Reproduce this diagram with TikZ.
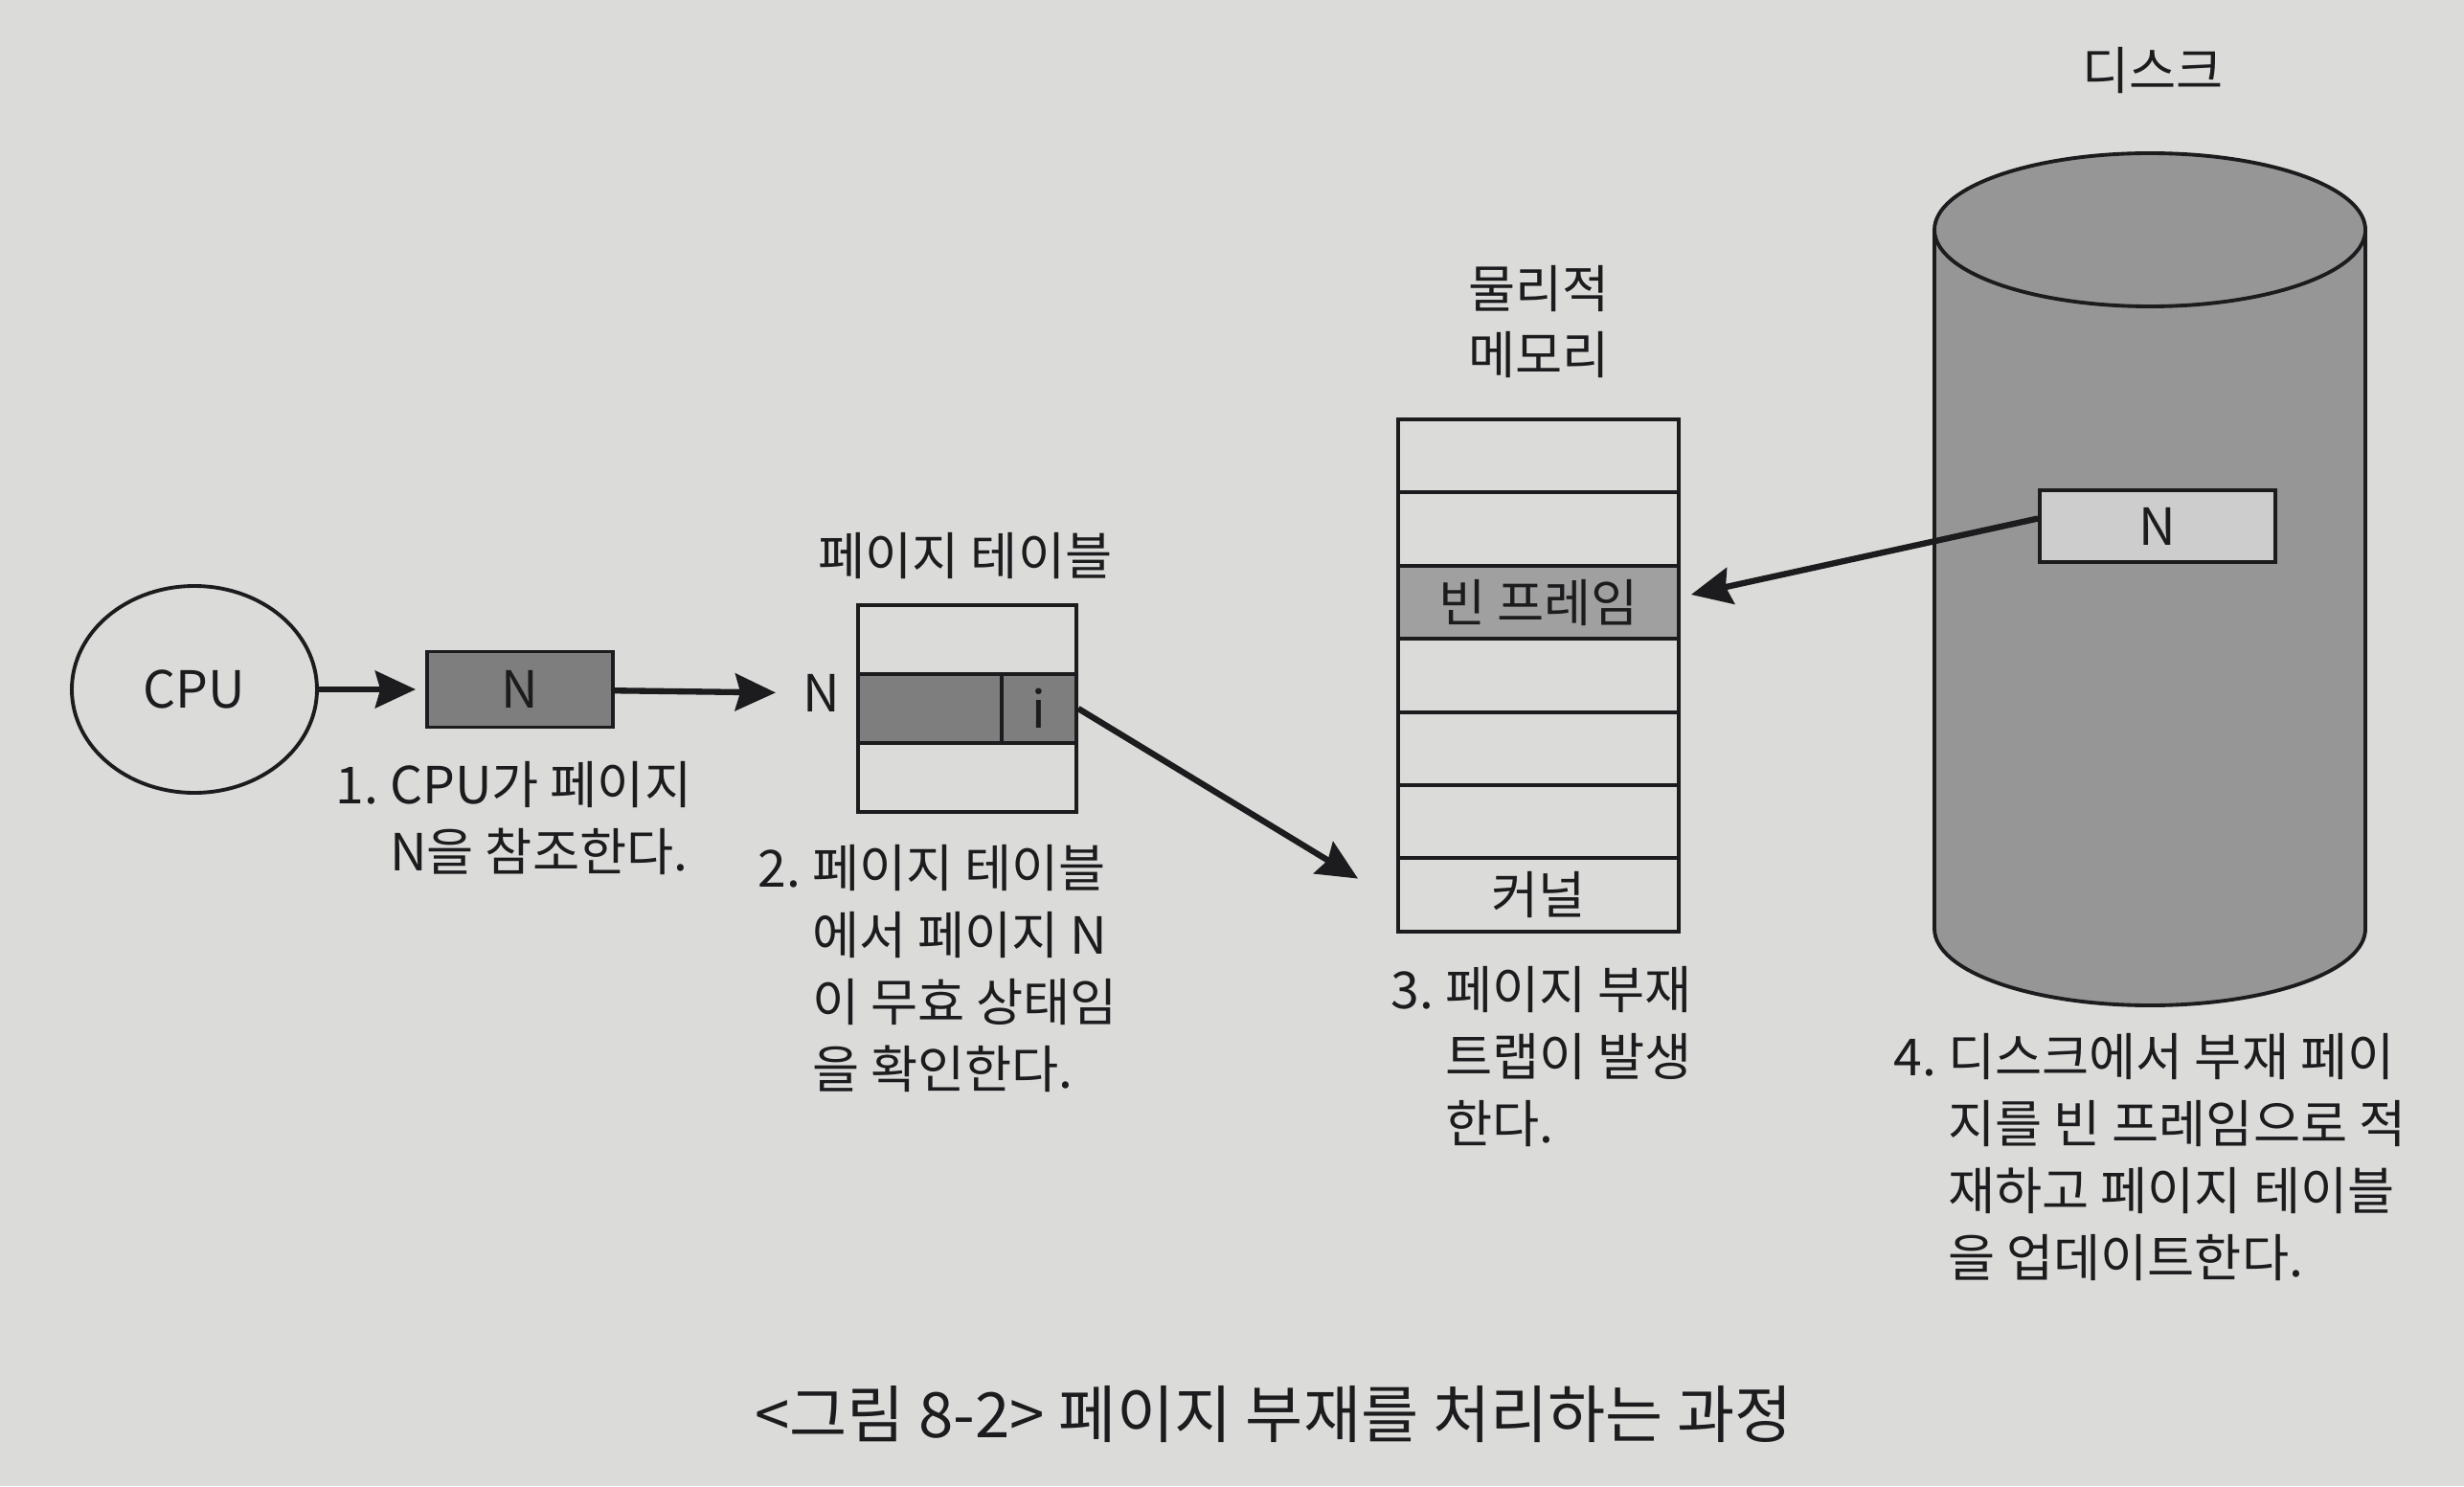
\documentclass[tikz,border=0pt]{standalone}
\usepackage{fontspec}
\setmainfont{Noto Sans CJK KR}
\usetikzlibrary{arrows.meta,shapes.geometric}

\definecolor{pfPaper}{RGB}{219,219,217}
\definecolor{pfInk}{RGB}{28,28,30}
\definecolor{pfDark}{RGB}{126,126,126}
\definecolor{pfFrame}{RGB}{160,160,160}
\definecolor{pfDisk}{RGB}{150,150,150}
\definecolor{pfDiskBox}{RGB}{205,205,205}

\begin{document}
\begin{tikzpicture}[
    pgFaultLine/.style={line width=1.1pt, draw=pfInk},
    pgFaultArrow/.style={-{Stealth[length=12pt, width=11pt, inset=1.5pt]}, line width=1.8pt, draw=pfInk},
    pgFaultText/.style={font=\fontsize{15.2pt}{19.9pt}\selectfont, text=pfInk, inner sep=0pt},
    pgFaultStep/.style={pgFaultText, align=left, anchor=north west},
    pgFaultCell/.style={pgFaultLine, pgFaultText, rectangle}
]
    % 배경
    \fill[pfPaper] (0,0) rectangle (25.73,15.52);
    \useasboundingbox (0,0) rectangle (25.73,15.52);

    % CPU와 가상 주소
    \node[pgFaultCell, ellipse, minimum width=2.56cm, minimum height=2.16cm] (cpu) at (2.03,8.32) {CPU};
    \node[pgFaultCell, fill=pfDark, minimum width=1.94cm, minimum height=0.79cm] (vaddr) at (5.43,8.32) {N};
    \node[pgFaultText] (ptIndex) at (8.58,8.28) {N};
    \draw[pgFaultArrow, shorten >=0.1cm] (cpu) -- (vaddr);
    \draw[pgFaultArrow, shorten >=0.28cm] (vaddr) -- (ptIndex);

    % 페이지 테이블
    \node[pgFaultText] (ptTitle) at (10.08,9.71) {페이지 테이블};
    \foreach \i/\c in {1/pfPaper, 2/pfDark, 3/pfPaper}
        \node[pgFaultCell, fill=\c, minimum width=2.28cm, minimum height=0.72cm] (pt\i) at (10.10,9.56-\i*0.72) {};
    \draw[pgFaultLine] ([xshift=-0.80cm]pt2.north east) -- ([xshift=-0.80cm]pt2.south east);
    \path (pt2.east) ++(-0.41,0) node[pgFaultText] (ptBit) {i};

    % 물리적 메모리
    \node[pgFaultText, align=center] (memTitle) at (16.07,12.16) {물리적\\메모리};
    \foreach \i/\c/\t in {1/pfPaper/, 2/pfPaper/, 3/pfFrame/빈 프레임, 4/pfPaper/,
                          5/pfPaper/, 6/pfPaper/, 7/pfPaper/커널}
        \node[pgFaultCell, fill=\c, minimum width=2.93cm, minimum height=0.764cm] (mem\i) at (16.065,11.522-\i*0.764) {\t};

    % 디스크
    \node[pgFaultText] (diskTitle) at (22.48,14.78) {디스크};
    \fill[pfDisk] (20.20,13.12) -- (20.20,5.82)
        arc[start angle=180, end angle=360, x radius=2.25cm, y radius=0.8cm]
        -- (24.70,13.12) -- cycle;
    \draw[pgFaultLine] (20.20,13.12) -- (20.20,5.82)
        arc[start angle=180, end angle=360, x radius=2.25cm, y radius=0.8cm]
        -- (24.70,13.12);
    \draw[pgFaultLine, fill=pfDisk] (22.45,13.12) ellipse [x radius=2.25cm, y radius=0.8cm];
    \node[pgFaultCell, fill=pfDiskBox, minimum width=2.46cm, minimum height=0.75cm] (diskPage) at (22.53,10.025) {N};

    % 트랩과 적재
    \coordinate (trapEnd) at ([xshift=-0.40cm, yshift=0.17cm]mem7.west);
    \draw[pgFaultArrow] (pt2.east) -- (trapEnd);
    \coordinate (loadStart) at ([yshift=0.08cm]diskPage.west);
    \coordinate (loadEnd) at ([xshift=0.11cm, yshift=0.08cm]mem3.east);
    \draw[pgFaultArrow] (loadStart) -- (loadEnd);

    % 단계 설명
    \node[pgFaultStep] (step1) at (3.50,7.57) {1.~CPU가 페이지\\\hphantom{1.~}N을 참조한다.};
    \node[pgFaultStep] (step2) at (7.91,6.70) {2.~페이지 테이블\\\hphantom{2.~}에서 페이지 N\\\hphantom{2.~}이 무효 상태임\\\hphantom{2.~}을 확인한다.};
    \node[pgFaultStep] (step3) at (14.52,5.43) {3.~페이지 부재\\\hphantom{3.~}트랩이 발생\\\hphantom{3.~}한다.};
    \node[pgFaultStep] (step4) at (19.77,4.73) {4.~디스크에서 부재 페이\\\hphantom{4.~}지를 빈 프레임으로 적\\\hphantom{4.~}재하고 페이지 테이블\\\hphantom{4.~}을 업데이트한다.};

    % 그림 제목
    \node[pgFaultText, font=\fontsize{18.6pt}{21pt}\selectfont] (caption) at (13.30,0.75) {<그림 8-2> 페이지 부재를 처리하는 과정};
\end{tikzpicture}
\end{document}
